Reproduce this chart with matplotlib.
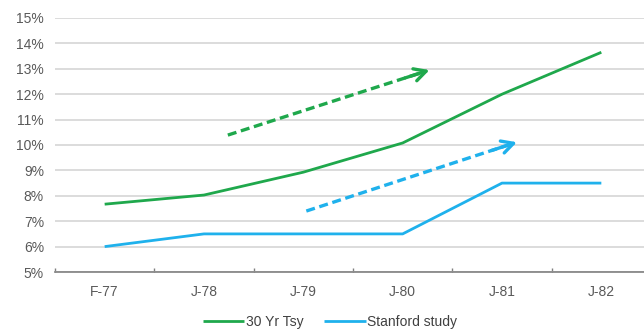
import matplotlib
matplotlib.use("Agg")
import matplotlib.pyplot as plt
import numpy as np

categories = ["F-77", "J-78", "J-79", "J-80", "J-81", "J-82"]
tsy_30yr = [7.67, 8.03, 8.93, 10.08, 12.0, 13.65]
stanford = [6.0, 6.5, 6.5, 6.5, 8.5, 8.5]
y_ticks = list(range(5, 16))

# trend arrows (start x, start y, end x, end y) in data units
green_arrow = [1.24, 10.39, 3.27, 12.95]
blue_arrow = [2.03, 7.40, 4.15, 10.11]

GREEN = "#1fa84c"
BLUE = "#1fb1ec"
TXT = "#595959"

plt.rcParams['font.family'] = ['Liberation Sans', 'DejaVu Sans']

fig = plt.figure(figsize=(6.44, 3.31), dpi=100)
ax = fig.add_axes([55/644, 59/331, 596/644, 254/331])

x = np.arange(len(categories))
ax.plot(x, tsy_30yr, color=GREEN, lw=2.0, label="30 Yr Tsy", solid_capstyle='butt')
ax.plot(x, stanford, color=BLUE, lw=2.0, label="Stanford study", solid_capstyle='butt')

for arr, col in [(green_arrow, GREEN), (blue_arrow, BLUE)]:
    x0, y0, x1, y1 = arr
    ax.plot([x0, x1 - (x1 - x0) * 0.02], [y0, y1 - (y1 - y0) * 0.02], color=col, lw=2.4,
            linestyle=(0, (2.7, 1.4)), dash_capstyle='butt')
    f = 0.12
    ax.annotate("", xy=(x1, y1), xytext=(x1 - (x1 - x0) * f, y1 - (y1 - y0) * f),
                arrowprops=dict(arrowstyle="->,head_length=0.85,head_width=0.45", color=col,
                                lw=2.4, shrinkA=0, shrinkB=0))

ax.set_xlim(-0.5, 5.5)
ax.set_ylim(5, 15)
ax.set_yticks(y_ticks)
ax.set_yticklabels([f"{v}%" for v in y_ticks])
ax.set_xticks(x)
ax.set_xticklabels(categories)
ax.set_xticks(np.arange(-0.5, 6.0, 1.0), minor=True)
ax.tick_params(axis='x', which='major', length=0, pad=9, labelsize=10, labelcolor=TXT)
ax.tick_params(axis='x', which='minor', length=3, direction='in', color="#808080", width=1)
ax.tick_params(axis='y', length=0, pad=8, labelsize=10, labelcolor=TXT)

ax.grid(axis='y', color="#d9d9d9", lw=1.3)
ax.set_axisbelow(True)
for s in ["top", "right", "left"]:
    ax.spines[s].set_visible(False)
ax.spines["bottom"].set_color("#808080")
ax.spines["bottom"].set_linewidth(1.2)

leg = fig.legend(loc="center", bbox_to_anchor=(330/644, 1 - 322/331), ncol=2, frameon=False,
                 fontsize=10, handlelength=3.0, handletextpad=0.1, columnspacing=1.5)
for t in leg.get_texts():
    t.set_color("#404040")

fig.savefig("out.png", dpi=100)
